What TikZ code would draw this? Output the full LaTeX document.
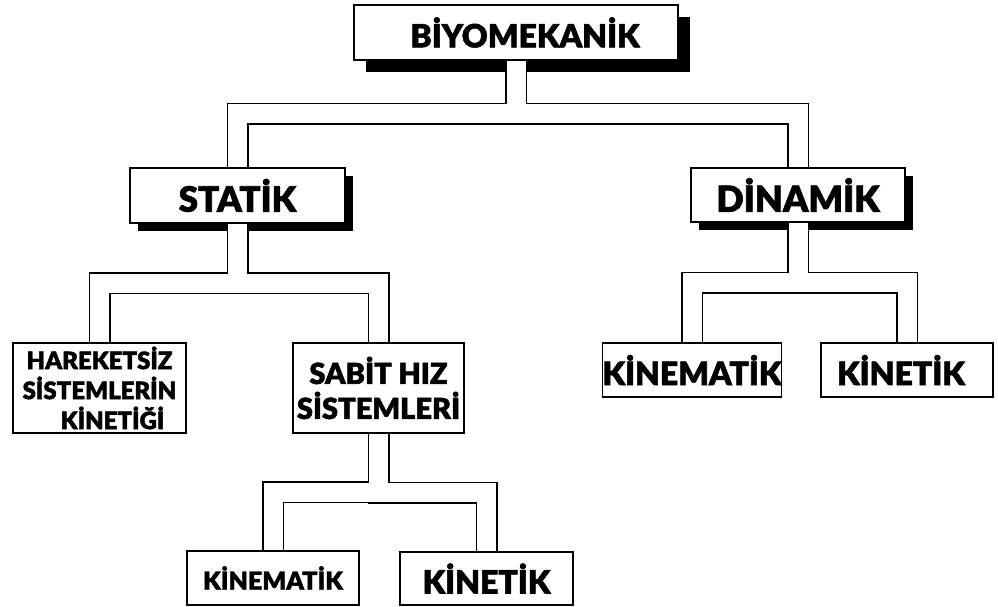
\documentclass[tikz,border=0pt]{standalone}
\usepackage{fontspec}
\setmainfont{Lato}[UprightFont=* Black, BoldFont=* Black, UprightFeatures={FakeBold=1.6}]
\usetikzlibrary{shadows,calc}

\tikzset{
  kutu/.style={draw, line width=1.4pt, fill=white, align=center, inner sep=0pt},
  golge/.style={drop shadow={shadow xshift=#1, shadow yshift=-#1, fill=black, opacity=1}},
  boru/.style={line width=#1, line join=miter,
    to path={(\tikztostart) |- ($(\tikztostart)!0.5!(\tikztotarget)$) -| (\tikztotarget)}},
  yazi/.style={font=\fontsize{#1}{#1}\selectfont}
}

\begin{document}
\begin{tikzpicture}[x=1pt, y=-1pt]
  \useasboundingbox (0,0) rectangle (998,607);

  \node[kutu, golge=12pt, minimum width=324pt, minimum height=55pt, yazi=32] (bio) at (516,32.5) {\hspace{18pt}BİYOMEKANİK};

  \node[kutu, golge=8pt, minimum width=215pt, minimum height=55pt, yazi=35] (statik) at (237.5,195.5) {STATİK};
  \node[kutu, golge=8pt, minimum width=214pt, minimum height=54pt, yazi=36] (dinamik) at (798,195) {DİNAMİK};

  \node[kutu, minimum width=173pt, minimum height=90pt, font=\fontsize{24}{30}\selectfont] (hareketsiz) at (99.5,388) {HAREKETSİZ\\SİSTEMLERİN\\\hspace*{26pt}KİNETİĞİ};
  \node[kutu, minimum width=171pt, minimum height=90pt, font=\fontsize{29}{35}\selectfont] (sabit) at (378.5,388) {SABİT HIZ\\SİSTEMLERİ};

  \node[kutu, minimum width=174pt, minimum height=54pt, yazi=32] (kinematik1) at (692,370) {KİNEMATİK};
  \node[kutu, minimum width=172pt, minimum height=54pt, yazi=32] (kinetik1) at (907,370) {KİNETİK\hspace{12pt}};

  \node[kutu, minimum width=172pt, minimum height=54pt, yazi=25] (kinematik2) at (273,578) {KİNEMATİK};
  \node[kutu, minimum width=173pt, minimum height=53pt, yazi=32] (kinetik2) at (486.5,578.5) {KİNETİK};

  \foreach \renk/\kalin in {black/22pt, white/19pt}
    \foreach \ust/\alt in {bio/statik, bio/dinamik, statik/hareketsiz, statik/sabit,
                           dinamik/kinematik1, dinamik/kinetik1, sabit/kinematik2, sabit/kinetik2}
      \draw[boru=\kalin, \renk] (\ust.south) to (\alt.north);
\end{tikzpicture}
\end{document}
